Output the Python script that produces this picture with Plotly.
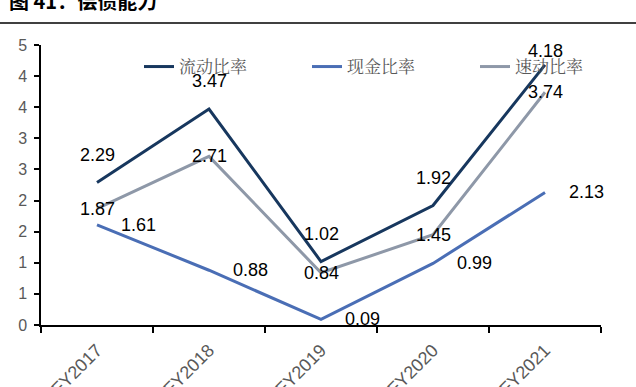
import plotly.graph_objects as go

categories = ["FY2017", "FY2018", "FY2019", "FY2020", "FY2021"]
current_ratio = [2.29, 3.47, 1.02, 1.92, 4.18]   # 流动比率
cash_ratio = [1.61, 0.88, 0.09, 0.99, 2.13]      # 现金比率
quick_ratio = [1.87, 2.71, 0.84, 1.45, 3.74]     # 速动比率
y_tick_vals = [0, 0.5, 1, 1.5, 2, 2.5, 3, 3.5, 4, 4.5]
y_tick_text = ["0", "1", "1", "2", "2", "3", "3", "4", "4", "5"]

W, H = 636, 387
L, R, T, B = 41, 35, 45, 62
pw, ph = W - L - R, H - T - B

def px_x(p):
    return (p - L) / pw

def px_y(p):
    return (H - B - p) / ph

series = [
    ("流动比率", current_ratio, "#17375E", "legend", 139),
    ("现金比率", cash_ratio, "#4A6EB5", "legend2", 307),
    ("速动比率", quick_ratio, "#8E98A8", "legend3", 475),
]

fig = go.Figure()
legend_font = dict(family="Noto Serif CJK SC, Noto Sans CJK SC", size=17, color="#595959")
legend_layouts = {}
for name, vals, color, lg, lx in series:
    fig.add_trace(go.Scatter(
        x=categories, y=vals, name=name, mode="lines", legend=lg,
        line=dict(color=color, width=3), cliponaxis=False,
    ))
    legend_layouts[lg] = dict(
        orientation="h", x=px_x(lx), y=px_y(67), xanchor="left", yanchor="middle",
        bgcolor="rgba(0,0,0,0)", font=legend_font,
    )

num_font = dict(family="Liberation Sans, Arial", size=18, color="#000000")
annotations = []
# label placement: current -> above, quick -> centered, cash -> right
for i, c in enumerate(categories):
    up = 28 if i < len(categories) - 1 else 14
    annotations.append(dict(x=c, y=current_ratio[i], xref="x", yref="y",
                            text=f"{current_ratio[i]:.2f}", showarrow=False,
                            yshift=up, font=num_font))
    annotations.append(dict(x=c, y=quick_ratio[i], xref="x", yref="y",
                            text=f"{quick_ratio[i]:.2f}", showarrow=False,
                            font=num_font))
    annotations.append(dict(x=c, y=cash_ratio[i], xref="x", yref="y",
                            text=f"{cash_ratio[i]:.2f}", showarrow=False,
                            xshift=41, font=num_font))

annotations.append(dict(
    x=px_x(7), y=px_y(1), xref="paper", yref="paper", xanchor="left", yanchor="middle",
    text="<b>图 41：偿债能力</b>", showarrow=False,
    font=dict(family="Noto Sans CJK SC", size=20, color="#000000"),
))

fig.update_layout(
    width=W, height=H,
    margin=dict(l=L, r=R, t=T, b=B, autoexpand=False),
    paper_bgcolor="white", plot_bgcolor="white",
    showlegend=True,
    annotations=annotations,
    shapes=[dict(type="line", xref="paper", yref="paper",
                 x0=px_x(0), x1=px_x(W), y0=px_y(23), y1=px_y(23),
                 line=dict(color="#000000", width=1.5))],
    xaxis=dict(
        type="category", range=[-0.5, 4.5], tickson="boundaries",
        ticks="outside", ticklen=6, tickcolor="#000000", tickwidth=1.5,
        showline=True, linecolor="#000000", linewidth=1.5,
        showgrid=False, zeroline=False, tickangle=-45, automargin=False,
        ticklabelstandoff=6,
        tickfont=dict(family="Liberation Sans, Arial", size=18, color="#595959"),
    ),
    yaxis=dict(
        range=[0, 4.5], tickvals=y_tick_vals, ticktext=y_tick_text,
        ticks="outside", ticklen=5, tickcolor="#000000", tickwidth=1.5,
        showline=True, linecolor="#000000", linewidth=1.5,
        showgrid=False, zeroline=False, automargin=False,
        ticklabelstandoff=4,
        tickfont=dict(family="Liberation Sans, Arial", size=16, color="#595959"),
    ),
    **legend_layouts,
)

fig.write_html("out.html", config={"displayModeBar": False},
               post_script="document.body.style.margin='0';document.body.style.padding='0';")
